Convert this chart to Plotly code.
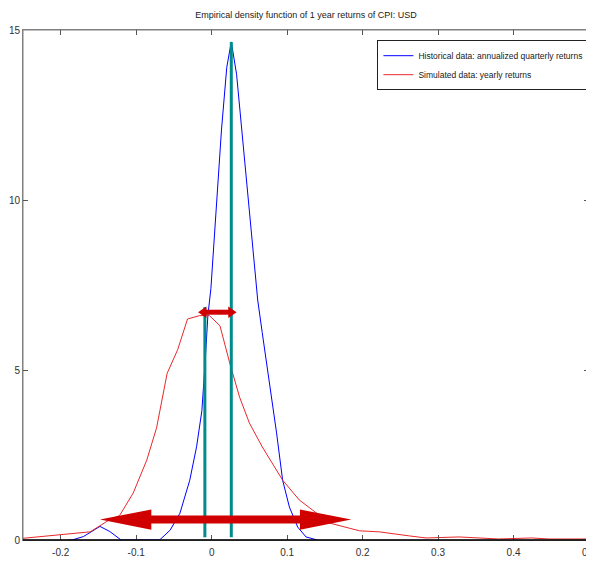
import plotly.graph_objects as go

# Historical data: annualized quarterly returns (density)
hist_x = [-0.25, -0.19, -0.185, -0.17, -0.148, -0.135, -0.12, -0.069, -0.055, -0.042, -0.029,
          -0.020, -0.013, -0.009, -0.005, -0.001, 0.006, 0.013, 0.020, 0.026, 0.033, 0.040,
          0.050, 0.061, 0.067, 0.077, 0.086, 0.094, 0.103, 0.114, 0.125, 0.14]
hist_y = [None, 0.0, 0.0, 0.1, 0.40, 0.25, 0.0, 0.0, 0.29, 0.79, 1.76,
          2.74, 3.8, 5.1, 6.6, 7.4, 9.8, 12.06, 13.9, 14.65, 13.7, 12.06,
          9.6, 7.06, 6.1, 4.6, 3.15, 1.76, 0.97, 0.38, 0.09, 0.0]

# Simulated data: yearly returns (density)
sim_x = [-0.25, -0.2, -0.161, -0.135, -0.122, -0.104, -0.086, -0.073, -0.059, -0.045, -0.032,
         -0.016, -0.003, 0.011, 0.024, 0.037, 0.050, 0.067, 0.094, 0.116, 0.139, 0.156,
         0.196, 0.222, 0.262, 0.284, 0.328, 0.354, 0.38, 0.424, 0.447, 0.5]
sim_y = [0.05, 0.15, 0.24, 0.6, 0.72, 1.38, 2.35, 3.3, 4.9, 5.6, 6.5,
         6.6, 6.6, 6.3, 5.2, 4.2, 3.44, 2.74, 1.76, 1.18, 0.79, 0.5,
         0.27, 0.24, 0.12, 0.06, 0.09, 0.06, 0.03, 0.06, 0.03, 0.03]

# Vertical markers (x, top)
vline_x = [-0.009, 0.026]
vline_top = [6.85, 14.65]

# Double arrows: (x_left, x_right, y)
arrow_small = [-0.018, 0.033, 6.7]
arrow_big = [-0.148, 0.185, 0.6]

x_ticks = [-0.2, -0.1, 0, 0.1, 0.2, 0.3, 0.4, 0.5]
x_tick_text = ["-0.2", "-0.1", "0", "0.1", "0.2", "0.3", "0.4", "0.5"]
y_ticks = [0, 5, 10, 15]

FONT = "Liberation Sans Narrow, Arial Narrow, Liberation Sans, Arial"

fig = go.Figure()
fig.add_trace(go.Scatter(x=hist_x, y=hist_y, mode="lines", line=dict(color="#0000ff", width=1),
                         name="Historical data: annualized quarterly returns"))
fig.add_trace(go.Scatter(x=sim_x, y=sim_y, mode="lines", line=dict(color="#e8282a", width=1),
                         name="Simulated data: yearly returns"))

shapes = []
TEAL = "#008c8c"
for vx, vt in zip(vline_x, vline_top):
    shapes.append(dict(type="line", xref="x", yref="y", x0=vx, x1=vx, y0=0.08, y1=vt,
                       line=dict(color=TEAL, width=3)))

def double_arrow(spec, head_len, head_half, shaft_w, color="#d00000"):
    xl, xr, yy = spec
    out = [dict(type="line", xref="x", yref="y", x0=xl + head_len * 0.9, x1=xr - head_len * 0.9,
                y0=yy, y1=yy, line=dict(color=color, width=shaft_w))]
    out.append(dict(type="path", xref="x", yref="y",
                    path=f"M{xl},{yy} L{xl + head_len},{yy + head_half} L{xl + head_len},{yy - head_half} Z",
                    fillcolor=color, line=dict(color=color, width=0)))
    out.append(dict(type="path", xref="x", yref="y",
                    path=f"M{xr},{yy} L{xr - head_len},{yy + head_half} L{xr - head_len},{yy - head_half} Z",
                    fillcolor=color, line=dict(color=color, width=0)))
    return out

shapes += double_arrow(arrow_big, 0.068, 0.30, 8)
shapes += double_arrow(arrow_small, 0.011, 0.17, 5)

# box (gray) and black bottom axis line
shapes.append(dict(type="rect", xref="paper", yref="paper", x0=0, x1=1, y0=0, y1=1,
                   line=dict(color="#808080", width=1), layer="below"))
shapes.append(dict(type="line", xref="paper", yref="paper", x0=0, x1=1, y0=0, y1=0,
                   line=dict(color="#000000", width=1.5)))

# The page body has an 8px margin, so the figure is sized to fit within the window.
fig.update_layout(
    width=586, height=553,
    margin=dict(l=15, r=5, t=22, b=21, autoexpand=False),
    paper_bgcolor="white", plot_bgcolor="white",
    title=dict(text="Empirical density function of 1 year returns of CPI: USD",
               x=0.5, xanchor="center", xref="paper", yref="container",
               y=0.987, yanchor="middle", automargin=False,
               font=dict(family=FONT, size=9, color="#202020")),
    font=dict(family=FONT, size=10, color="#303030"),
    showlegend=True,
    legend=dict(x=0.999, y=0.98, xanchor="right", yanchor="top",
                bgcolor="white", bordercolor="#202020", borderwidth=1,
                font=dict(family=FONT, size=8.5, color="#202020"),
                tracegroupgap=0, itemwidth=30),
    shapes=shapes,
    xaxis=dict(range=[-0.25, 0.5], tickvals=x_ticks, ticktext=x_tick_text, automargin=False,
               ticks="inside", ticklen=5, tickcolor="#555555", showgrid=False,
               zeroline=False, showline=True, linecolor="#808080", mirror="ticks",
               ticklabelstandoff=3, ticklabeloverflow="allow",
               tickfont=dict(family=FONT, size=10, color="#303030")),
    yaxis=dict(range=[0, 15], tickvals=y_ticks, ticks="inside", ticklen=5, automargin=False,
               tickcolor="#555555", showgrid=False, zeroline=False, showline=True,
               linecolor="#808080", mirror="ticks", ticklabeloverflow="allow",
               tickfont=dict(family=FONT, size=10, color="#303030")),
)

fig.write_html("out.html")
